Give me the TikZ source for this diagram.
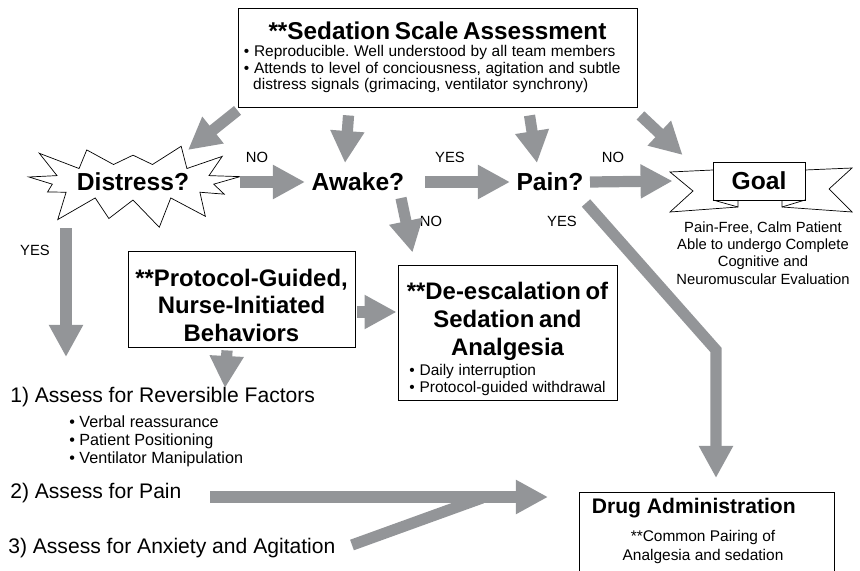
\documentclass[tikz,border=0pt]{standalone}
\usepackage{fontspec}
\setmainfont{Liberation Sans}
\usetikzlibrary{arrows.meta,calc,shapes.symbols}
\definecolor{flowgray}{RGB}{147,149,152}
\frenchspacing

\begin{document}
\begin{tikzpicture}[x=0.025cm,y=-0.025cm]
\tikzstyle{box}=[draw,line width=0.6pt,inner sep=0pt]
\tikzstyle{flow}=[draw=flowgray,line width=0.28cm,-{Triangle[width=0.8cm,length=0.8cm]}]
\tikzstyle{bar}=[draw=flowgray,line width=0.28cm]
\tikzstyle{q}=[font=\fontsize{17.5}{20}\selectfont\bfseries,inner sep=1pt]
\tikzstyle{lbl}=[font=\fontsize{10.5}{12.2}\selectfont,inner sep=0pt]
\tikzstyle{stepline}=[font=\fontsize{15}{18}\selectfont,anchor=west,inner sep=0pt]
\useasboundingbox (0,0) rectangle (860,571);
\clip (0,0) rectangle (860,571);

% assessment box
\node[box,minimum width=9.975cm,minimum height=2.475cm,text width=9.675cm] (sedation) at (437.5,57.5)
 {\centering{\fontsize{17.3}{20}\selectfont\bfseries **Sedation Scale Assessment}\par
  \raggedright\fontsize{11}{11.9}\selectfont
  \textbullet\ Reproducible. Well understood by all team members\\
  \textbullet\ Attends to level of conciousness, agitation and subtle\\
  \hspace*{0.6em}distress signals (grimacing, ventilator synchrony)\par};

% questions
\node[q,starburst,draw,line width=0.5pt,starburst points=13,starburst point height=0.85cm,
 random starburst=23,minimum width=5.1cm,minimum height=2.6cm] (distress) at (133,182) {Distress?};
\node[q] (awake) at (358,182) {Awake?};
\node[q] (pain) at (550,182) {Pain?};

% goal banner
\node[box,q,fill=white,minimum width=2.3cm,minimum height=0.95cm] (goal) at (759,181) {Goal};
\begin{scope}[shift={(goal.center)},line width=0.5pt]
\draw (-46,-11) -- (-89,-9) -- (-66,10) -- (-89,31) -- (-21,26) -- (-21,19);
\draw (-46,19) -- (-21,26);
\draw (46,-11) -- (93,-13) -- (70,8) -- (93,31) -- (23,26) -- (23,19);
\draw (46,19) -- (23,26);
\end{scope}
\node[lbl,align=center] (goaltext) at (763,253)
 {Pain-Free, Calm Patient\\Able to undergo Complete\\Cognitive and\\Neuromuscular Evaluation};

% middle boxes
\node[box,align=center,minimum width=5.675cm,minimum height=2.4cm,
 font=\fontsize{17}{19.5}\selectfont\bfseries] (protocol) at (241.5,299)
 {\rule{0pt}{21pt}**Protocol-Guided,\\Nurse-Initiated\\Behaviors};
\node[box,minimum width=5.475cm,minimum height=3.375cm,text width=5.3cm] (deesc) at (507.5,332.5)
 {\centering\fontsize{17}{20}\selectfont\bfseries \rule{0pt}{21pt}**De-escalation of\\Sedation and\\Analgesia\par
  \vspace{2pt}\raggedright\leftskip=0.2cm\fontsize{11}{12}\selectfont\mdseries
  \textbullet\ Daily interruption\\\textbullet\ Protocol-guided withdrawal\par};

% drug box
\node[box,minimum width=6.375cm,minimum height=2.45cm,anchor=north] (drug) at (706.5,492) {};
\node[font=\fontsize{15}{18}\selectfont\bfseries,anchor=west,inner sep=0pt] (drughead)
 at ($(drug.north west)+(13,16)$) {Drug Administration};
\node[lbl,align=center,font=\fontsize{11}{14.2}\selectfont] (drugnote)
 at ($(drug.north)+(-3.5,55)$) {**Common Pairing of\\Analgesia and sedation};

% steps
\node[stepline] (step1) at (10,397) {1) Assess for Reversible Factors};
\node[font=\fontsize{11.5}{12.8}\selectfont,align=left,anchor=west,inner sep=0pt] (factors) at (69,441)
 {\textbullet\ Verbal reassurance\\\textbullet\ Patient Positioning\\\textbullet\ Ventilator Manipulation};
\node[stepline] (step2) at (10,493) {2) Assess for Pain};
\node[stepline] (step3) at (8,548) {3) Assess for Anxiety and Agitation};
\coordinate (join) at (548,497);

% labels
\node[lbl] (no1) at (257,157) {NO};
\node[lbl] (yes1) at (450,157) {YES};
\node[lbl] (no2) at (613,157) {NO};
\node[lbl] (no3) at (431,221) {NO};
\node[lbl] (yes2) at (562,221) {YES};
\node[lbl] (yes3) at (35,250) {YES};

% arrows
\draw[flow] ($(sedation.south west)+(0,3)$) -- ($(distress.center)+(55,-32)$);
\draw[flow] ($(sedation.south west)+(111,8)$) -- ($(awake.center)+(-13,-19)$);
\draw[flow] ($(sedation.south west)+(292,8)$) -- ($(pain.center)+(-13,-19)$);
\draw[flow] ($(sedation.south east)+(3,8)$) -- ($(goal.west)+(-30,-26)$);
\draw[flow] ($(distress.center)+(107,0)$) -- ($(awake.center)+(-53,0)$);
\draw[flow] ($(awake.center)+(67,0)$) -- ($(pain.center)+(-40,0)$);
\draw[flow] ($(pain.center)+(40,0)$) -- ($(goal.west)+(-40,0)$);
\draw[flow] ($(awake.center)+(43,16)$) -- ($(deesc.north west)+(15,-12)$);
\draw[flow,line join=miter] ($(pain.center)+(36,21)$) -- ++(130,147) -- ($(drug.north)+(9.5,-14)$);
\draw[flow] ($(distress.center)+(-67,46)$) -- ($(step1.west)+(56,-40)$);
\draw[flow] ($(protocol.east)+(2,13)$) -- ($(deesc.west)+(-1,-20.5)$);
\draw[flow] ($(protocol.south)+(-14.5,3)$) -- ($(step1.west)+(215,-9)$);
\draw[flow] ($(step2.west)+(200,4)$) -- (join);
\draw[bar] ($(step3.west)+(344,-3)$) -- ($(join)+(-66,1)$);
\end{tikzpicture}
\end{document}
